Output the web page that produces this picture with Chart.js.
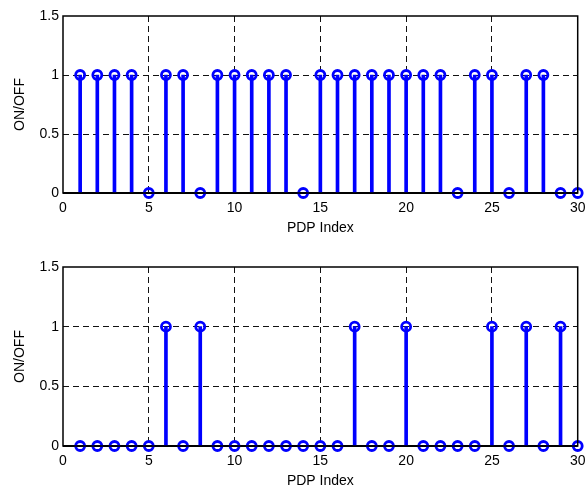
<!DOCTYPE html>
<html><head><meta charset="utf-8">
<script src="https://cdn.jsdelivr.net/npm/chart.js@4"></script>
<style>
html,body{margin:0;padding:0;background:#fff;overflow:hidden;width:585px;height:492px;}
canvas{position:absolute;left:0;}
#c1{top:0;}
#c2{top:239px;}
</style></head><body>
<canvas id="c1" width="585" height="239"></canvas>
<canvas id="c2" width="585" height="253"></canvas>
<script>
const pdpIndex = [1,2,3,4,5,6,7,8,9,10,11,12,13,14,15,16,17,18,19,20,21,22,23,24,25,26,27,28,29,30];
const topValues = [1,1,1,1,0,1,1,0,1,1,1,1,1,0,1,1,1,1,1,1,1,1,0,1,1,0,1,1,0,0];
const bottomValues = [0,0,0,0,0,1,0,1,0,0,0,0,0,0,0,0,1,0,0,1,0,0,0,0,1,0,1,0,1,0];
const xTickValues = [0,5,10,15,20,25,30];
const yTickValues = [0,0.5,1,1.5];
const xTitle = 'PDP Index';
const yTitle = 'ON/OFF';

const FONT = {family:'"Liberation Sans", Arial, Helvetica, sans-serif', size:14};
const BLUE = '#0000ff';
const INK = '#000';

const framePlugin = {
  id:'frame',
  beforeDatasetsDraw(chart){
    const {ctx, chartArea:a, scales:{y}} = chart;
    ctx.save();
    ctx.strokeStyle = '#000';
    ctx.lineWidth = 2;
    const y0 = y.getPixelForValue(0);
    ctx.beginPath(); ctx.moveTo(a.left, y0); ctx.lineTo(a.right, y0); ctx.stroke();
    ctx.restore();
  },
  afterDraw(chart){
    const {ctx, chartArea:a} = chart;
    ctx.save();
    ctx.strokeStyle = '#000';
    ctx.lineWidth = 1.5;
    ctx.strokeRect(a.left, a.top, a.right - a.left, a.bottom - a.top);
    ctx.restore();
  }
};

function makeChart(id, values, padTop) {
  const pts = pdpIndex.map((x, i) => ({x: x, y: values[i]}));
  return new Chart(document.getElementById(id), {
    type: 'bar',
    data: {
      datasets: [
        {type:'line', data: pts, showLine:false, pointRadius:4.5, pointBorderWidth:2.8,
         pointBorderColor:BLUE, pointBackgroundColor:'rgba(0,0,0,0)', clip:false, order:0},
        {type:'bar', data: pts, backgroundColor:BLUE, barThickness:3, grouped:false, order:1}
      ]
    },
    options: {
      responsive:false, animation:false,
      layout:{padding:{top:padTop, right:5, left:0, bottom:0}},
      plugins:{legend:{display:false}, tooltip:{enabled:false}},
      scales:{
        x:{
          type:'linear', min:0, max:30, offset:false,
          afterBuildTicks: s => { s.ticks = xTickValues.map(v => ({value:v})); },
          grid:{offset:false, drawTicks:false, lineWidth:1,
                color: c => (c.tick && (c.tick.value === 0 || c.tick.value === 30)) ? 'rgba(0,0,0,0)' : '#111'},
          border:{display:false, dash:[6,4]},
          ticks:{font:FONT, color:INK, padding:7, maxRotation:0, autoSkip:false, callback: v => String(v)},
          title:{display:true, text:xTitle, font:FONT, color:INK, padding:{top:0, bottom:2}},
          afterFit: s => { s.height = 46; s.paddingLeft = 0; s.paddingRight = 0; }
        },
        y:{
          min:0, max:1.5,
          afterBuildTicks: s => { s.ticks = yTickValues.map(v => ({value:v})); },
          grid:{drawTicks:false, lineWidth:1,
                color: c => (c.tick && (c.tick.value === 0 || c.tick.value === 1.5)) ? 'rgba(0,0,0,0)' : '#111'},
          border:{display:false, dash:[6,4]},
          ticks:{font:FONT, color:INK, padding:4, callback: v => String(v)},
          title:{display:true, text:yTitle, font:FONT, color:INK, padding:{top:12, bottom:0}},
          afterFit: s => { s.width = 63; s.paddingTop = 0; s.paddingBottom = 0; }
        }
      }
    },
    plugins:[framePlugin]
  });
}

makeChart('c1', topValues, 16);
makeChart('c2', bottomValues, 28);
</script>
</body></html>
